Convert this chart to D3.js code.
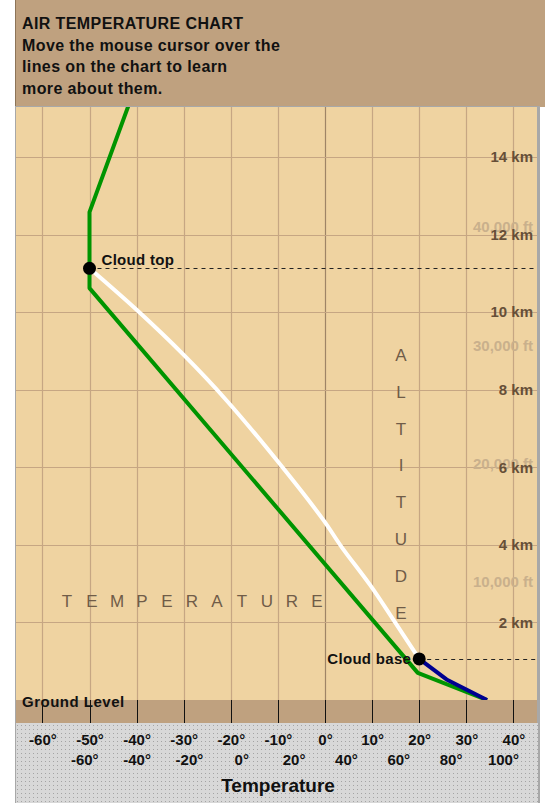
<!doctype html>
<html>
<head>
<meta charset="utf-8">
<script src="https://cdn.jsdelivr.net/npm/d3@7/dist/d3.min.js"></script>
<style>
  body { margin: 0; background: #fff; }
  svg { display: block; font-family: "Liberation Sans", Arial, sans-serif; }
</style>
</head>
<body>
<svg width="545" height="803"></svg>
<script>
// ---- data ----
var titleLines = ["AIR TEMPERATURE CHART", "Move the mouse cursor over the", "lines on the chart to learn", "more about them."];
var tempTicksC = [-60, -50, -40, -30, -20, -10, 0, 10, 20, 30, 40];
var tempTicksF = [-60, -40, -20, 0, 20, 40, 60, 80, 100];
var kmTicks = [2, 4, 6, 8, 10, 12, 14];
var ftTicks = [10000, 20000, 30000, 40000];

// [temperature °C, altitude km]
var environment = [[34.4, 0], [19.7, 0.7], [-50, 10.62], [-50, 12.58], [-41.8, 15.3], [-39, 16.2]];
var dryAdiabat = [[34.4, 0], [25.8, 0.53], [20, 1.06]];
var moistAdiabat = [[20, 1.06], [13.8, 2.2], [9.6, 2.96], [3.5, 3.95], [-0.4, 4.65], [-8.9, 5.98],
                    [-20.8, 7.71], [-30.1, 8.91], [-40, 10.06], [-50, 11.13]];
var cloudTop = { t: -50, km: 11.13, label: "Cloud top" };
var cloudBase = { t: 20, km: 1.06, label: "Cloud base" };

var svg = d3.select("svg");

var plotLeft = 16, plotRight = 537, plotTop = 107, ground = 700, bandBottom = 723;

var x = d3.scaleLinear().domain([-60, 40]).range([42.4, 513.4]);
var y = d3.scaleLinear().domain([0, 14]).range([ground, 157]);
var cToF = c => c * 9 / 5 + 32;
var xF = d3.scaleLinear().domain(x.domain().map(cToF)).range(x.range());
var yFt = d3.scaleLinear().domain(y.domain().map(k => k / 0.0003048)).range(y.range());

// dotted grey pattern for the bottom strip
var defs = svg.append("defs");
var pat = defs.append("pattern").attr("id", "dots").attr("width", 4).attr("height", 4)
  .attr("patternUnits", "userSpaceOnUse");
pat.append("rect").attr("width", 4).attr("height", 4).attr("fill", "#d8d8d8");
pat.append("rect").attr("x", 1).attr("y", 1).attr("width", 1).attr("height", 1).attr("fill", "#a4a4a4");

defs.append("clipPath").attr("id", "plotclip").append("rect")
  .attr("x", plotLeft).attr("y", plotTop).attr("width", plotRight - plotLeft).attr("height", ground - plotTop);

// panels
svg.append("rect").attr("x", 15).attr("y", 0).attr("width", 530).attr("height", plotTop)
  .attr("fill", "#bfa17f");
svg.append("line").attr("x1", 15.5).attr("x2", 15.5).attr("y1", 0).attr("y2", plotTop)
  .attr("stroke", "#8c7458");
svg.append("rect").attr("x", 15).attr("y", plotTop - 1).attr("width", 525).attr("height", 803 - plotTop + 1)
  .attr("fill", "#a8a8a8");
svg.append("rect").attr("x", plotLeft).attr("y", plotTop).attr("width", plotRight - plotLeft).attr("height", ground - plotTop)
  .attr("fill", "#efd3a1");
svg.append("rect").attr("x", plotLeft).attr("y", ground).attr("width", plotRight - plotLeft).attr("height", bandBottom - ground)
  .attr("fill", "#bfa17f");
svg.append("rect").attr("x", plotLeft).attr("y", bandBottom).attr("width", plotRight - plotLeft + 1).attr("height", 803 - bandBottom)
  .attr("fill", "url(#dots)");

// title
svg.append("g").selectAll("text").data(titleLines).enter().append("text")
  .attr("x", 22).attr("y", (d, i) => 29 + i * 21.5)
  .attr("font-size", 16).attr("font-weight", "bold").attr("letter-spacing", 0.4)
  .attr("fill", "#111").text(d => d);

// grid
var grid = svg.append("g");
grid.selectAll(".v").data(tempTicksC).enter().append("line")
  .attr("x1", d => Math.round(x(d)) + 0.5).attr("x2", d => Math.round(x(d)) + 0.5)
  .attr("y1", plotTop).attr("y2", ground)
  .attr("stroke", d => d === 0 ? "#9e8466" : "#c6a683").attr("stroke-width", 1.2);
grid.selectAll(".h").data(kmTicks).enter().append("line")
  .attr("x1", plotLeft).attr("x2", plotRight)
  .attr("y1", d => Math.round(y(d)) + 0.5).attr("y2", d => Math.round(y(d)) + 0.5)
  .attr("stroke", "#c6a683").attr("stroke-width", 1.2);
grid.selectAll(".t").data(tempTicksC).enter().append("line")
  .attr("x1", d => Math.round(x(d)) + 0.5).attr("x2", d => Math.round(x(d)) + 0.5)
  .attr("y1", ground).attr("y2", bandBottom)
  .attr("stroke", "#111").attr("stroke-width", 1);

// big spaced words
var word1 = "TEMPERATURE".split("");
svg.append("g").selectAll("text").data(word1).enter().append("text")
  .attr("x", (d, i) => 67 + i * 25).attr("y", 607).attr("text-anchor", "middle")
  .attr("font-size", 17).attr("fill", "#705c48").text(d => d);
var word2 = "ALTITUDE".split("");
svg.append("g").selectAll("text").data(word2).enter().append("text")
  .attr("x", 401).attr("y", (d, i) => 361 + i * 36.8).attr("text-anchor", "middle")
  .attr("font-size", 17).attr("fill", "#705c48").text(d => d);

// right-hand altitude labels
var ftAxis = svg.append("g").attr("transform", "translate(533,0)")
  .call(d3.axisLeft(yFt).tickValues(ftTicks).tickSize(0).tickPadding(0)
    .tickFormat(d => d3.format(",")(d) + " ft"));
ftAxis.select(".domain").remove();
ftAxis.selectAll("text").attr("font-size", 15).attr("font-weight", "bold")
  .attr("font-family", "Liberation Sans, Arial, sans-serif").attr("fill", "#c9b08c");

var kmAxis = svg.append("g").attr("transform", "translate(533,0)")
  .call(d3.axisLeft(y).tickValues(kmTicks).tickSize(0).tickPadding(0).tickFormat(d => d + " km"));
kmAxis.select(".domain").remove();
kmAxis.selectAll("text").attr("font-size", 15).attr("font-weight", "bold")
  .attr("font-family", "Liberation Sans, Arial, sans-serif").attr("fill", "#664f38");

// lines
var line = d3.line().x(d => x(d[0])).y(d => y(d[1]));
var smooth = d3.line().x(d => x(d[0])).y(d => y(d[1])).curve(d3.curveCatmullRom);
var plot = svg.append("g").attr("clip-path", "url(#plotclip)");
plot.append("path").attr("d", line(environment)).attr("fill", "none")
  .attr("stroke", "#009400").attr("stroke-width", 4).attr("stroke-linejoin", "round");
plot.append("path").attr("d", smooth(moistAdiabat)).attr("fill", "none")
  .attr("stroke", "#ffffff").attr("stroke-width", 4).attr("stroke-linejoin", "round");
plot.append("path").attr("d", line(dryAdiabat)).attr("fill", "none")
  .attr("stroke", "#000090").attr("stroke-width", 4).attr("stroke-linejoin", "round");

// cloud levels
[cloudTop, cloudBase].forEach(function (c) {
  plot.append("line").attr("x1", x(c.t)).attr("x2", plotRight)
    .attr("y1", Math.round(y(c.km)) + 0.5).attr("y2", Math.round(y(c.km)) + 0.5)
    .attr("stroke", "#222").attr("stroke-dasharray", "4,4");
  plot.append("circle").attr("cx", x(c.t)).attr("cy", y(c.km)).attr("r", 6.5).attr("fill", "#000");
});
svg.append("text").attr("x", x(cloudTop.t) + 12).attr("y", y(cloudTop.km) - 3)
  .attr("font-size", 15).attr("font-weight", "bold").attr("letter-spacing", 0.3)
  .attr("fill", "#111").text(cloudTop.label);
svg.append("text").attr("x", x(cloudBase.t) - 8).attr("y", y(cloudBase.km) + 5)
  .attr("text-anchor", "end")
  .attr("font-size", 15).attr("font-weight", "bold").attr("letter-spacing", 0.3)
  .attr("fill", "#111").text(cloudBase.label);

svg.append("text").attr("x", 22).attr("y", 707)
  .attr("font-size", 15).attr("font-weight", "bold").attr("letter-spacing", 0.5)
  .attr("fill", "#111").text("Ground Level");

// bottom temperature scales
var axC = svg.append("g").attr("transform", "translate(0,734)")
  .call(d3.axisBottom(x).tickValues(tempTicksC).tickSize(0).tickPadding(0).tickFormat(d => d + "°"));
var axF = svg.append("g").attr("transform", "translate(0,754)")
  .call(d3.axisBottom(xF).tickValues(tempTicksF).tickSize(0).tickPadding(0).tickFormat(d => d + "°"));
[axC, axF].forEach(function (a) {
  a.select(".domain").remove();
  a.selectAll("text").attr("font-size", 15).attr("font-weight", "bold")
    .attr("font-family", "Liberation Sans, Arial, sans-serif").attr("fill", "#111");
});

svg.append("text").attr("x", 278).attr("y", 792).attr("text-anchor", "middle")
  .attr("font-size", 19).attr("font-weight", "bold").attr("fill", "#111").text("Temperature");
</script>
</body>
</html>
